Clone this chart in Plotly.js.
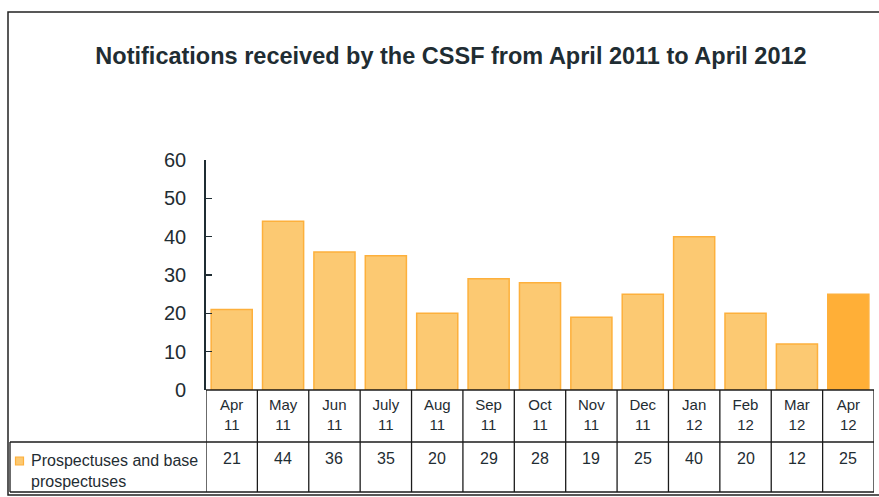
<!DOCTYPE html>
<html>
<head>
<meta charset="utf-8">
<script src="https://cdn.plot.ly/plotly-3.0.1.min.js"></script>
<style>html,body{margin:0;padding:0;background:#fff;}#chart{width:879px;height:497px;}</style>
</head>
<body>
<div id="chart"></div>
<script>
// ---- data ----
const months = ["Apr", "May", "Jun", "July", "Aug", "Sep", "Oct", "Nov", "Dec", "Jan", "Feb", "Mar", "Apr"];
const years  = ["11", "11", "11", "11", "11", "11", "11", "11", "11", "12", "12", "12", "12"];
const values = [21, 44, 36, 35, 20, 29, 28, 19, 25, 40, 20, 12, 25];
const seriesName = "Prospectuses and base<br>prospectuses";
const chartTitle = "Notifications received by the CSSF from April 2011 to April 2012";
const yTicks = [0, 10, 20, 30, 40, 50, 60];

// ---- layout helpers (pixel -> paper) ----
const W = 879, H = 497;
const L = 206, R = 874, T = 160, B = 390;
const px = x => (x - L) / (R - L);
const py = y => (B - y) / (B - T);

const idx = months.map((m, i) => i);
const tickText = months.map((m, i) => m + "<br>" + years[i]);

const fill = "#fcc972", edge = "#fdb03c", hiFill = "#ffaf37";
const colors = values.map((v, i) => i === values.length - 1 ? hiFill : fill);
const lineCol = "#1b1b1b";
const textCol = "#1f2d33";
const FONT = "Liberation Sans, Arial, sans-serif";

const shapes = [];
// outer frame
shapes.push({type: "rect", xref: "paper", yref: "paper", x0: px(8), x1: px(1000), y0: py(12), y1: py(495),
  line: {color: "#222", width: 1.5}, layer: "below"});
// table verticals
for (let i = 0; i <= months.length; i++) {
  shapes.push({type: "line", xref: "x", yref: "paper", x0: i - 0.5, x1: i - 0.5, y0: py(390), y1: py(492),
    line: {color: lineCol, width: 1.3}});
}
// table horizontals
shapes.push({type: "line", xref: "paper", yref: "paper", x0: px(206), x1: px(874), y0: py(390), y1: py(390), line: {color: lineCol, width: 1.3}});
shapes.push({type: "line", xref: "paper", yref: "paper", x0: px(10), x1: px(874), y0: py(442), y1: py(442), line: {color: lineCol, width: 1.3}});
shapes.push({type: "line", xref: "paper", yref: "paper", x0: px(10), x1: px(874), y0: py(492), y1: py(492), line: {color: lineCol, width: 1.3}});
shapes.push({type: "line", xref: "paper", yref: "paper", x0: px(10), x1: px(10), y0: py(442), y1: py(492), line: {color: lineCol, width: 1.3}});
// legend key
shapes.push({type: "rect", xref: "paper", yref: "paper", x0: px(15.5), x1: px(23.5), y0: py(457), y1: py(465),
  fillcolor: fill, line: {color: edge, width: 1.2}});

const annotations = [];
values.forEach((v, i) => {
  annotations.push({xref: "x", yref: "paper", x: i, y: py(458), text: String(v), showarrow: false,
    xanchor: "center", yanchor: "middle", font: {family: FONT, size: 16, color: textCol}});
});
annotations.push({xref: "paper", yref: "paper", x: px(29), y: py(471), text: seriesName, showarrow: false,
  xanchor: "left", yanchor: "middle", align: "left",
  font: {family: FONT, size: 16, color: textCol}});

const trace = {
  type: "bar", x: idx, y: values, name: seriesName.replace("<br>", " "),
  marker: {color: colors, line: {color: edge, width: 1.5}},
  hoverinfo: "skip"
};

const layout = {
  width: W, height: H, autosize: false,
  margin: {l: L, r: W - R, t: T, b: H - B, pad: 0},
  paper_bgcolor: "#fff", plot_bgcolor: "#fff",
  showlegend: false,
  bargap: 0.2,
  title: {text: "<b>" + chartTitle + "</b>", x: 451 / W, xanchor: "center", xref: "container",
    y: 1 - 56 / H, yanchor: "middle", yref: "container",
    font: {family: FONT, size: 23.5, color: textCol}},
  xaxis: {
    type: "linear", range: [-0.5, months.length - 0.5],
    tickmode: "array", tickvals: idx, ticktext: tickText,
    ticks: "", showline: false, showgrid: false, zeroline: false,
    tickfont: {family: FONT, size: 15, color: textCol},
    ticklabelstandoff: 4, fixedrange: true
  },
  yaxis: {
    range: [0, 60], tickmode: "array", tickvals: yTicks,
    ticks: "inside", ticklen: 6, tickwidth: 1.5, tickcolor: textCol,
    showline: true, linecolor: textCol, linewidth: 1.8,
    showgrid: false, zeroline: false,
    tickfont: {family: FONT, size: 20, color: textCol},
    ticklabelstandoff: 14, fixedrange: true
  },
  shapes: shapes,
  annotations: annotations
};

Plotly.newPlot("chart", [trace], layout, {staticPlot: true, displayModeBar: false});
</script>
</body>
</html>
